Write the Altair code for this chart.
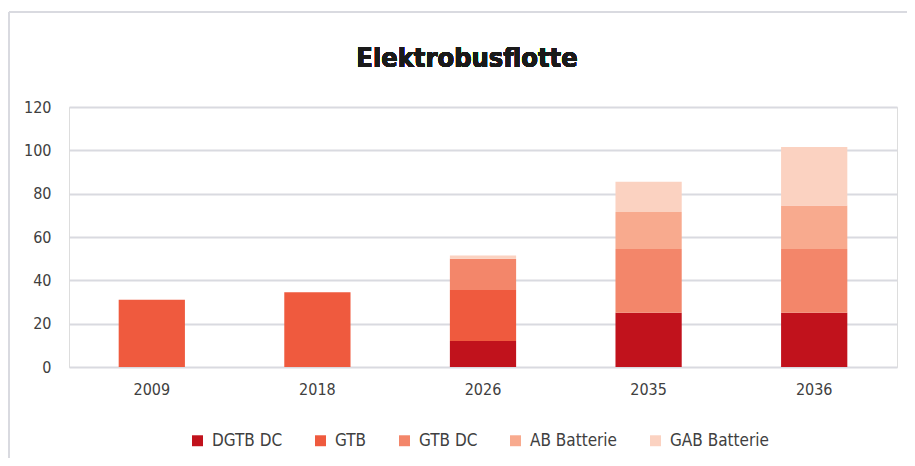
import altair as alt
import pandas as pd

years = ["2009", "2018", "2026", "2035", "2036"]
series = ["DGTB DC", "GTB", "GTB DC", "AB Batterie", "GAB Batterie"]
colors = ["#C1121C", "#EF5A3E", "#F3866A", "#F8AA8E", "#FBD2C1"]
dgtb_dc = [0, 0, 12, 25, 25]
gtb = [31, 34.5, 23.5, 0, 0]
gtb_dc = [0, 0, 14.5, 29.5, 29.5]
ab_batterie = [0, 0, 0, 17, 20]
gab_batterie = [0, 0, 1.5, 14, 27]
title_text = "Elektrobusflotte"

values = [dgtb_dc, gtb, gtb_dc, ab_batterie, gab_batterie]
rows = []
for si, (name, vals) in enumerate(zip(series, values)):
    for y, v in zip(years, vals):
        if v > 0:
            rows.append({"Jahr": y, "Typ": name, "Anzahl": v, "idx": si})
df = pd.DataFrame(rows)

FONT = "DejaVu Sans Condensed, Liberation Sans Narrow, Roboto, sans-serif"

bars = alt.Chart(df).mark_bar().encode(
    x=alt.X("Jahr:N", sort=years, title=None,
            scale=alt.Scale(paddingInner=0.6, paddingOuter=0.3),
            axis=alt.Axis(labelAngle=0, ticks=False, domain=False, grid=False,
                          labelPadding=14, labelFontSize=16, labelColor="#404040",
                          labelFont=FONT)),
    y=alt.Y("Anzahl:Q", title=None, stack="zero",
            scale=alt.Scale(domain=[0, 120], nice=False),
            axis=alt.Axis(values=[0, 20, 40, 60, 80, 100, 120], ticks=False, domain=False,
                          gridColor="#D9DAE0", gridWidth=2, labelPadding=18,
                          labelFontSize=16, labelColor="#404040", labelFont=FONT)),
    color=alt.Color("Typ:N", sort=series,
                    scale=alt.Scale(domain=series, range=colors),
                    legend=alt.Legend(title=None, orient="none", direction="horizontal",
                                      legendX=120, legendY=325,
                                      symbolType="square", symbolSize=120,
                                      symbolStrokeWidth=0,
                                      labelFontSize=17, labelColor="#404040", labelFont=FONT,
                                      columnPadding=29, labelOffset=6)),
    order=alt.Order("idx:Q", sort="ascending"),
)

border_top = alt.Chart(df).mark_rule(color="#D9DAE0", strokeWidth=2).encode(
    x=alt.value(-60), x2=alt.value(900), y=alt.value(-95)
)
border_left = alt.Chart(df).mark_rule(color="#D9DAE0", strokeWidth=2).encode(
    x=alt.value(-60), y=alt.value(-95), y2=alt.value(400)
)
title = alt.Chart(df).mark_text(
    font=FONT, fontSize=27, fontWeight="bold", color="#1A1A1A",
    align="center", baseline="alphabetic"
).encode(x=alt.value(398), y=alt.value(-40), text=alt.value(title_text))

chart = alt.layer(bars, border_top, border_left, title).properties(
    width=828, height=260,
    autosize=alt.AutoSizeParams(type="none"),
    padding={"left": 61, "top": 99, "right": 10, "bottom": 91},
).configure_view(stroke=None).configure(background="white")

chart.save("out.html", embed_options={"renderer": "svg", "actions": False})
